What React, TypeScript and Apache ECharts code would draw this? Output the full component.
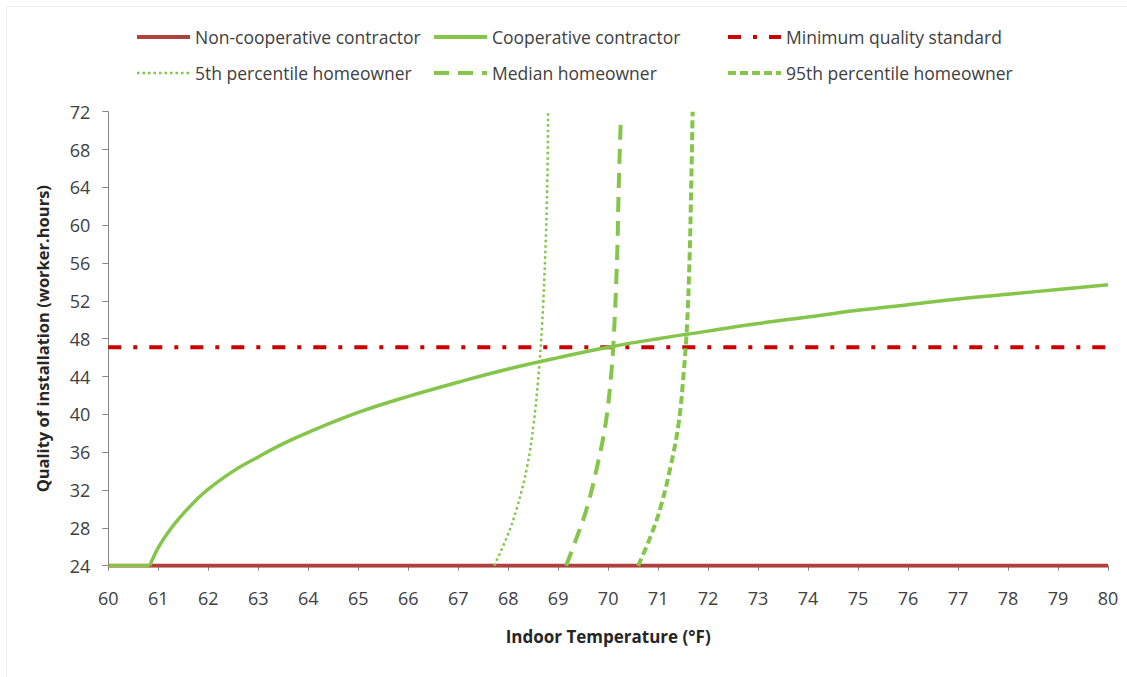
import React, { useEffect, useRef } from "react";
import * as echarts from "echarts";

const xTicksMin = 60;
const xTicksMax = 80;
const yTicksMin = 24;
const yTicksMax = 72;

const nonCoopX = [60, 80];
const nonCoopY = [24, 24];

const minQualityX = [60, 80];
const minQualityY = [47.1, 47.1];

const coopFlatX = [60, 60.83];
const coopFlatY = [24, 24];
const coopX = [60.83, 61, 61.25, 61.5, 61.75, 62, 62.5, 63, 63.5, 64, 65, 66, 67, 68, 69, 70, 71, 72, 73, 74, 75, 76, 77, 78, 79, 80];
const coopY = [24, 25.9, 27.9, 29.5, 30.9, 32.1, 34.0, 35.5, 36.9, 38.1, 40.2, 41.9, 43.4, 44.8, 46.0, 47.1, 48.0, 48.8, 49.6, 50.3, 51.0, 51.6, 52.2, 52.7, 53.2, 53.7];

const p5X = [67.72, 67.98, 68.18, 68.38, 68.51, 68.61, 68.68, 68.74, 68.78, 68.8];
const p5Y = [24, 27.1, 30.2, 34.5, 39.05, 44.3, 49.6, 56.7, 63.7, 72];

const medX = [69.16, 69.38, 69.58, 69.78, 69.95, 70.05, 70.11, 70.18, 70.21, 70.25];
const medY = [24, 27.1, 30.2, 34.5, 39.05, 43.6, 47.9, 56.7, 63.7, 70.8];

const p95X = [70.6, 70.85, 71.05, 71.25, 71.41, 71.51, 71.58, 71.63, 71.66, 71.69];
const p95Y = [24, 27.1, 30.2, 34.5, 39.05, 44.3, 49.6, 56.7, 63.7, 72];

const names = [
  "Non-cooperative contractor",
  "Cooperative contractor",
  "Minimum quality standard",
  "5th percentile homeowner",
  "Median homeowner",
  "95th percentile homeowner",
];

const pair = (xs: number[], ys: number[]) => xs.map((x, i) => [x, ys[i]]);

const FONT = "'Open Sans', 'Noto Sans', sans-serif";
const RED = "#B0403C";
const GREEN = "#84C54A";
const DRED = "#CC0000";

export default function App() {
  const ref = useRef<HTMLDivElement>(null);
  useEffect(() => {
    if (!ref.current) return;
    const chart = echarts.init(ref.current, undefined, { renderer: "svg" });
    const legendBase = {
      orient: "vertical" as const,
      top: 28,
      padding: 0,
      itemGap: 18,
      itemWidth: 53,
      itemHeight: 14,
      itemStyle: { opacity: 0, borderWidth: 0 },
      lineStyle: { width: 4 },
      textStyle: { fontFamily: FONT, fontSize: 17.5, color: "#404040" },
      selectedMode: false as const,
    };
    chart.setOption({
      animation: false,
      backgroundColor: "#ffffff",
      textStyle: { fontFamily: FONT },
      graphic: [
        {
          type: "rect",
          shape: { x: 6.5, y: 6.5, width: 1130, height: 680 },
          style: { fill: "none", stroke: "#eeeeee", lineWidth: 1 },
          silent: true,
        },
      ],
      legend: [
        {
          ...legendBase,
          left: 135,
          data: [
            { name: names[0] },
            { name: names[3], lineStyle: { width: 2.5 } },
          ],
        },
        { ...legendBase, left: 432, data: [{ name: names[1] }, { name: names[4] }] },
        { ...legendBase, left: 726, data: [{ name: names[2] }, { name: names[5] }] },
      ],
      grid: { left: 108.3, right: 19, top: 111.7, bottom: 111.3, containLabel: false },
      xAxis: {
        type: "value",
        min: xTicksMin,
        max: xTicksMax,
        interval: 1,
        name: "Indoor Temperature (°F)",
        nameLocation: "middle",
        nameGap: 62,
        nameTextStyle: { fontFamily: FONT, fontSize: 17, fontWeight: "bold", color: "#262626" },
        axisLine: { show: true, onZero: false, lineStyle: { color: "#868686", width: 1 } },
        axisTick: { show: true, length: 5, lineStyle: { color: "#868686" } },
        axisLabel: { margin: 23, fontFamily: FONT, fontSize: 18, color: "#404040" },
        splitLine: { show: false },
      },
      yAxis: {
        type: "value",
        min: yTicksMin,
        max: yTicksMax,
        interval: 4,
        name: "Quality of installation (worker.hours)",
        nameLocation: "middle",
        nameGap: 57,
        nameTextStyle: { fontFamily: FONT, fontSize: 16.5, fontWeight: "bold", color: "#262626" },
        axisLine: { show: true, onZero: false, lineStyle: { color: "#868686", width: 1 } },
        axisTick: { show: true, length: 6, lineStyle: { color: "#868686" } },
        axisLabel: { margin: 18, fontFamily: FONT, fontSize: 18, color: "#404040" },
        splitLine: { show: false },
      },
      series: [
        {
          name: names[0],
          type: "line",
          data: pair(nonCoopX, nonCoopY),
          symbol: "none",
          color: RED,
          lineStyle: { color: RED, width: 4 },
          z: 1,
        },
        {
          name: names[2],
          type: "line",
          data: pair(minQualityX, minQualityY),
          symbol: "none",
          color: DRED,
          lineStyle: { color: DRED, width: 4, type: [13, 12, 4, 12], cap: "butt" },
          z: 2,
        },
        {
          name: names[1],
          type: "line",
          data: pair(coopFlatX, coopFlatY),
          symbol: "none",
          color: GREEN,
          lineStyle: { color: GREEN, width: 3.5 },
          z: 3,
        },
        {
          name: names[1],
          type: "line",
          data: pair(coopX, coopY),
          symbol: "none",
          smooth: 0.4,
          color: GREEN,
          lineStyle: { color: GREEN, width: 3.5 },
          z: 3,
        },
        {
          name: names[3],
          type: "line",
          data: pair(p5X, p5Y),
          symbol: "none",
          smooth: 0.4,
          color: GREEN,
          lineStyle: { color: GREEN, width: 2.5, type: [2.5, 3] },
          z: 4,
        },
        {
          name: names[4],
          type: "line",
          data: pair(medX, medY),
          symbol: "none",
          smooth: 0.4,
          color: GREEN,
          lineStyle: { color: GREEN, width: 4, type: [15, 9] },
          z: 4,
        },
        {
          name: names[5],
          type: "line",
          data: pair(p95X, p95Y),
          symbol: "none",
          smooth: 0.4,
          color: GREEN,
          lineStyle: { color: GREEN, width: 4, type: [8, 4] },
          z: 4,
        },
      ],
    });
    return () => chart.dispose();
  }, []);
  return (
    <div
      ref={ref}
      style={{ position: "absolute", left: 0, top: 0, width: 1127, height: 677 }}
    />
  );
}
